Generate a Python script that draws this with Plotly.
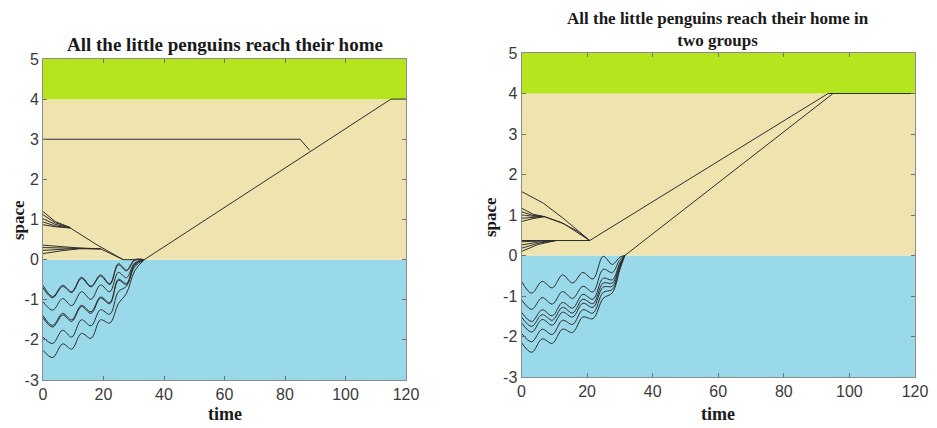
import plotly.graph_objects as go

# ---------------- data ----------------
band_edges = [-3, 0, 4, 5]
band_colors = ["#99d9ea", "#efe4b0", "#b5e61d"]

x_ticks = [0, 20, 40, 60, 80, 100, 120]
x_tick_text = ["0", "20", "40", "60", "80", "100", "120"]
y_ticks = [-3, -2, -1, 0, 1, 2, 3, 4, 5]
y_tick_text = ["-3", "-2", "-1", "0", "1", "2", "3", "4", "5"]

# ----- left panel : land penguins -----
left_land_t = [
    [0, 4, 9], [0, 4, 9], [0, 4, 9], [0, 4, 9], [0, 4, 9],
    [0, 6, 12, 19], [0, 6, 12, 19], [0, 6, 12, 19], [0, 6, 12, 19],
    [9, 18, 26.5, 33.5],
    [19, 26.5],
    [0, 85, 88.2],
    [33.5, 115, 120],
]
left_land_v = [
    [1.20, 0.95, 0.80], [1.12, 0.92, 0.80], [1.02, 0.88, 0.79], [0.94, 0.84, 0.79], [0.87, 0.82, 0.79],
    [0.36, 0.32, 0.29, 0.27], [0.30, 0.29, 0.28, 0.27], [0.23, 0.26, 0.28, 0.27], [0.15, 0.22, 0.27, 0.27],
    [0.79, 0.36, 0.0, 0.0],
    [0.27, 0.0],
    [3.0, 3.0, 2.72],
    [0.0, 4.0, 4.0],
]

# ----- left panel : sea penguins (wave crests / troughs) -----
left_sea_t = [0, 3.2, 6.5, 9.5, 12.7, 15.9, 19.0, 22.1, 24.9, 27.6, 30.3, 33.5]
left_sea_v = [
    [-0.64, -0.92, -0.64, -0.80, -0.44, -0.66, -0.38, -0.60, -0.10, -0.26, 0.0, 0.0],
    [-0.70, -0.95, -0.67, -0.82, -0.47, -0.68, -0.41, -0.62, -0.13, -0.28, -0.02, 0.0],
    [-1.05, -1.26, -0.97, -1.15, -0.80, -0.99, -0.63, -0.80, -0.32, -0.45, -0.08, 0.0],
    [-1.45, -1.68, -1.38, -1.54, -1.17, -1.34, -0.96, -1.10, -0.52, -0.62, -0.14, 0.0],
    [-1.40, -1.64, -1.34, -1.50, -1.14, -1.30, -0.93, -1.07, -0.49, -0.59, -0.11, 0.0],
    [-1.93, -2.09, -1.76, -1.93, -1.50, -1.65, -1.25, -1.36, -0.80, -0.66, -0.18, 0.0],
    [-2.26, -2.44, -2.10, -2.23, -1.84, -1.96, -1.50, -1.58, -1.10, -0.84, -0.28, 0.0],
]

# ----- right panel : land penguins -----
right_land_t = [
    [0, 6.7, 12.7, 16.8, 20.8],
    [0, 3.5, 7], [0, 3.5, 7], [0, 3.5, 7], [0, 3.5, 7], [0, 3.5, 7],
    [7, 12, 17, 20.8],
    [7, 13, 20.8],
    [0, 10.5, 20.8], [0, 5, 10.5], [0, 5, 10.5], [0, 5, 10.5], [0, 5, 10.5],
    [20.8, 93.5, 120],
]
right_land_v = [
    [1.58, 1.29, 0.92, 0.63, 0.37],
    [1.17, 1.02, 0.96], [1.08, 0.99, 0.96], [1.00, 0.97, 0.96], [0.92, 0.94, 0.96], [0.84, 0.91, 0.96],
    [0.96, 0.82, 0.60, 0.37],
    [0.96, 0.78, 0.37],
    [0.37, 0.37, 0.37], [0.34, 0.36, 0.37], [0.26, 0.33, 0.37], [0.18, 0.30, 0.37], [0.10, 0.27, 0.37],
    [0.37, 4.0, 4.0],
]

# ----- right panel : sea penguins -----
right_sea_t = [0, 3.1, 6.3, 9.4, 12.5, 15.6, 18.7, 21.8, 24.9, 27.7, 30.0, 31.5]
right_sea_v = [
    [-0.64, -0.93, -0.64, -0.80, -0.48, -0.68, -0.42, -0.58, -0.02, -0.22, -0.04, 0.0],
    [-1.09, -1.33, -1.04, -1.20, -0.89, -1.06, -0.76, -0.90, -0.34, -0.42, -0.10, 0.0],
    [-1.40, -1.63, -1.34, -1.49, -1.16, -1.30, -0.96, -1.08, -0.56, -0.60, -0.18, 0.0],
    [-1.52, -1.75, -1.46, -1.60, -1.28, -1.42, -1.08, -1.19, -0.68, -0.68, -0.22, 0.0],
    [-1.66, -1.89, -1.58, -1.72, -1.40, -1.52, -1.18, -1.28, -0.78, -0.76, -0.26, 0.0],
    [-1.92, -2.13, -1.82, -1.95, -1.60, -1.70, -1.34, -1.42, -0.91, -0.84, -0.30, 0.0],
    [-2.15, -2.39, -2.06, -2.17, -1.82, -1.90, -1.52, -1.56, -1.06, -0.92, -0.35, 0.0],
]
right_sea_home_t = [31.5, 95, 120]
right_sea_home_v = [0.0, 4.0, 4.0]

left_title = "All the little penguins reach their home"
right_title = "All the little penguins reach their home in<br>two groups"

# ---------------- figure ----------------
LINE = dict(color="#2e2e2e", width=1)
fig = go.Figure()

def add_line(t, v, xa, ya, smooth=False):
    fig.add_trace(go.Scatter(
        x=t, y=v, mode="lines", xaxis=xa, yaxis=ya,
        line=dict(LINE, shape="spline", smoothing=1.0) if smooth else LINE,
        hoverinfo="skip", showlegend=False))

for t, v in zip(left_land_t, left_land_v):
    add_line(t, v, "x", "y")
for v in left_sea_v:
    add_line(left_sea_t, v, "x", "y", smooth=True)
for t, v in zip(right_land_t, right_land_v):
    add_line(t, v, "x2", "y2")
for v in right_sea_v:
    add_line(right_sea_t, v, "x2", "y2", smooth=True)
add_line(right_sea_home_t, right_sea_home_v, "x2", "y2")

shapes = []
for xr, yr in (("x", "y"), ("x2", "y2")):
    for i, col in enumerate(band_colors):
        shapes.append(dict(type="rect", xref=xr, yref=yr, x0=0, x1=120,
                           y0=band_edges[i], y1=band_edges[i + 1],
                           fillcolor=col, line=dict(width=0), layer="below"))

# The page body has an 8px margin, so the figure is placed at (8, 8) in the window.
OFF = 8
W, H = 937 - OFF, 428 - OFF

def ax(domain, vals, text, rng, anchor):
    return dict(domain=domain, range=rng, tickvals=vals, ticktext=text, anchor=anchor,
                showgrid=False, zeroline=False, automargin=False,
                showline=True, mirror="ticks", linecolor="#8c8c8c", linewidth=1,
                ticks="inside", ticklen=4, tickcolor="#707070",
                tickfont=dict(family="Liberation Sans, Arial, sans-serif", size=16, color="#3a3a3a"))

# panel boxes in window pixels: (left, right, top, bottom)
L = (43, 406, 59, 380)
R = (521.5, 915, 53, 377)
def px(x): return (x - OFF) / W
def py(y): return 1 - (y - OFF) / H
def xd(b): return [px(b[0]), px(b[1])]
def yd(b): return [py(b[3]), py(b[2])]

serif = "Liberation Serif, Times New Roman, serif"
ann = []
ann.append(dict(text="<b>" + left_title + "</b>", x=px((L[0] + L[1]) / 2), y=py(44),
                xref="paper", yref="paper", showarrow=False, xanchor="center", yanchor="middle",
                font=dict(family=serif, size=19, color="#1a1a1a")))
ann.append(dict(text="<b>" + right_title + "</b>", x=px((R[0] + R[1]) / 2), y=py(29.5),
                xref="paper", yref="paper", showarrow=False, xanchor="center", yanchor="middle",
                font=dict(family=serif, size=17, color="#1a1a1a")))
for cx in ((L[0] + L[1]) / 2, (R[0] + R[1]) / 2):
    ann.append(dict(text="<b>time</b>", x=px(cx), y=py(414), xref="paper", yref="paper",
                    showarrow=False, xanchor="center", yanchor="middle",
                    font=dict(family=serif, size=18, color="#1a1a1a")))
for cx, cy in ((18, 220), (490, 217)):
    ann.append(dict(text="<b>space</b>", x=px(cx), y=py(cy), xref="paper", yref="paper",
                    showarrow=False, xanchor="center", yanchor="middle", textangle=-90,
                    font=dict(family=serif, size=17, color="#1a1a1a")))

fig.update_layout(
    width=W, height=H, margin=dict(l=0, r=0, t=0, b=0),
    paper_bgcolor="white", plot_bgcolor="white",
    xaxis=ax(xd(L), x_ticks, x_tick_text, [0, 120], "y"),
    yaxis=ax(yd(L), y_ticks, y_tick_text, [-3, 5], "x"),
    xaxis2=ax(xd(R), x_ticks, x_tick_text, [0, 120], "y2"),
    yaxis2=ax(yd(R), y_ticks, y_tick_text, [-3, 5], "x2"),
    shapes=shapes, annotations=ann,
)

fig.write_html("out.html")
